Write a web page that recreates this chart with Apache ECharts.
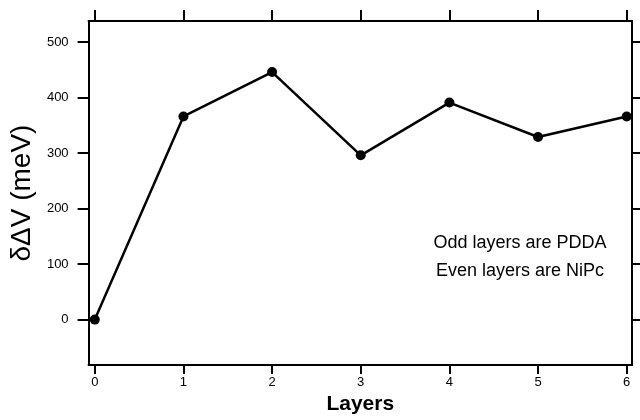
<!DOCTYPE html>
<html>
<head>
<meta charset="utf-8">
<script src="https://cdn.jsdelivr.net/npm/echarts@6/dist/echarts.min.js"></script>
<style>html,body{margin:0;padding:0;background:#fff}#c{width:640px;height:420px}</style>
</head>
<body>
<div id="c"></div>
<script>
const layers = [0, 1, 2, 3, 4, 5, 6];
const deltaV = [0, 366, 446, 296, 391, 329, 366];
const xTicks = [0, 1, 2, 3, 4, 5, 6];
const yTicks = [0, 100, 200, 300, 400, 500];
const annotation = ['Odd layers are PDDA', 'Even layers are NiPc'];

const font = '"Liberation Sans", Arial, Helvetica, sans-serif';
const chart = echarts.init(document.getElementById('c'), null, {renderer: 'canvas'});
const axisLine = {show: true, onZero: false, lineStyle: {color: '#000', width: 2}};
chart.setOption({
  animation: false,
  backgroundColor: '#fff',
  grid: {left: 88, right: 8, top: 21, bottom: 53},
  xAxis: [{
    type: 'value', position: 'bottom', min: -0.07, max: 6.06,
    axisLine: axisLine,
    axisTick: {show: true, inside: false, length: 9, customValues: xTicks, lineStyle: {color: '#000', width: 2}},
    axisLabel: {customValues: xTicks, color: '#000', fontSize: 13, fontFamily: font, margin: 11},
    splitLine: {show: false},
    name: 'Layers', nameLocation: 'middle', nameGap: 28,
    nameTextStyle: {color: '#000', fontSize: 21, fontWeight: 'bold', fontFamily: font}
  }, {
    type: 'value', position: 'top', min: -0.07, max: 6.06,
    axisLine: axisLine,
    axisTick: {show: true, inside: false, length: 11, customValues: xTicks, lineStyle: {color: '#000', width: 2}},
    axisLabel: {show: false},
    splitLine: {show: false}
  }],
  yAxis: [{
    type: 'value', position: 'left', min: -82, max: 538,
    axisLine: axisLine,
    axisTick: {show: true, inside: false, length: 11, customValues: yTicks, lineStyle: {color: '#000', width: 2}},
    axisLabel: {customValues: yTicks, color: '#000', fontSize: 13, fontFamily: font, margin: 20},
    splitLine: {show: false},
    name: 'δΔV (meV)', nameLocation: 'middle', nameGap: 52, nameRotate: 90,
    nameTextStyle: {color: '#000', fontSize: 28, fontFamily: font}
  }, {
    type: 'value', position: 'right', min: -82, max: 538,
    axisLine: axisLine,
    axisTick: {show: true, inside: false, length: 9, customValues: yTicks, lineStyle: {color: '#000', width: 2}},
    axisLabel: {show: false},
    splitLine: {show: false}
  }],
  series: [{
    type: 'line',
    xAxisIndex: 0, yAxisIndex: 0,
    data: layers.map((x, i) => [x, deltaV[i]]),
    symbol: 'circle', symbolSize: 10,
    lineStyle: {color: '#000', width: 2.5},
    itemStyle: {color: '#000'},
    clip: false
  }],
  graphic: [{
    type: 'text', x: 520, y: 257,
    style: {
      text: annotation.join('\n'),
      fill: '#000', font: '18px ' + font, align: 'center', verticalAlign: 'middle', lineHeight: 28
    }
  }]
});
</script>
</body>
</html>
